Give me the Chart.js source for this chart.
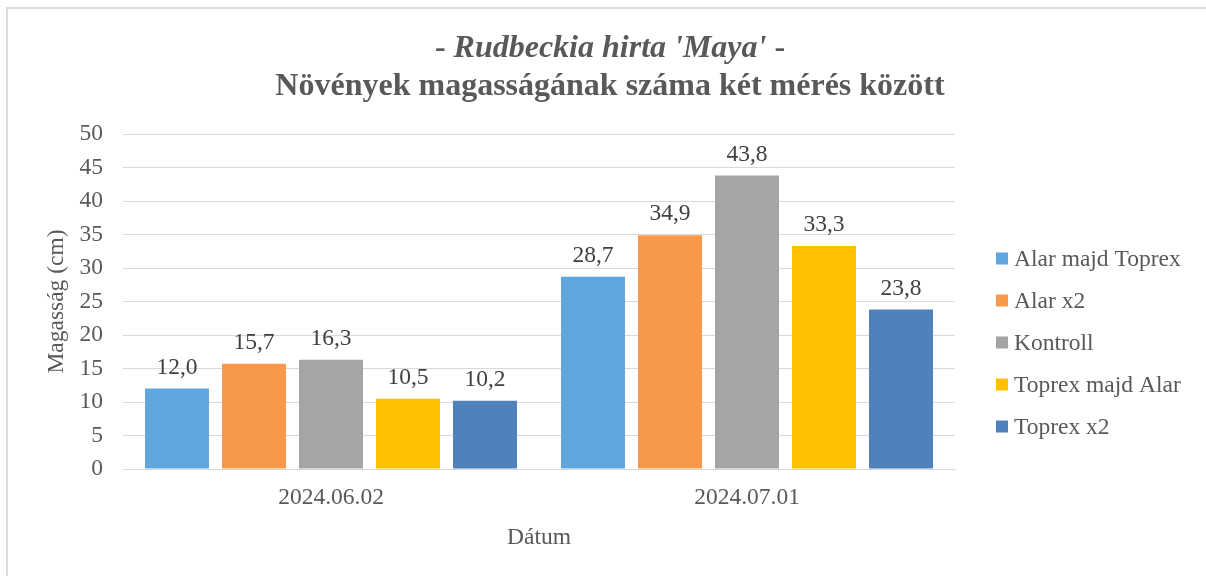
<!DOCTYPE html>
<html lang="hu">
<head>
<meta charset="utf-8">
<title>Rudbeckia hirta 'Maya'</title>
<script src="https://cdn.jsdelivr.net/npm/chart.js@4.4.1/dist/chart.umd.min.js"></script>
<style>
  body { margin: 0; background: #fff; overflow: hidden; }
  #keret { position: absolute; left: 6px; top: 7px; width: 1230px; height: 600px; border: 2px solid #dcdcdc; box-sizing: border-box; }
  #grafikon { position: absolute; left: 0; top: 0; }
</style>
</head>
<body>
<div id="keret"></div>
<canvas id="grafikon" width="1206" height="576"></canvas>
<script>
// adatok
const datumok = ['2024.06.02', '2024.07.01'];
const sorozatNevek = ['Alar majd Toprex', 'Alar x2', 'Kontroll', 'Toprex majd Alar', 'Toprex x2'];
const alarMajdToprex = [12.0, 28.7];
const alarX2 = [15.7, 34.9];
const kontroll = [16.3, 43.8];
const toprexMajdAlar = [10.5, 33.3];
const toprexX2 = [10.2, 23.8];
const szinek = ['#5fa6df', '#f7984a', '#a5a5a5', '#ffc000', '#4f81bd'];
const yMin = 0, yMax = 50, yLepes = 5;

const betu = '"Liberation Serif", "Times New Roman", serif';
const szurke = '#595959';

const ertekek = [alarMajdToprex, alarX2, kontroll, toprexMajdAlar, toprexX2];

// cim ket sorban, az elso sor dolt betus resszel
const cimRajz = {
  id: 'cimRajz',
  afterDraw(chart) {
    const ctx = chart.ctx;
    ctx.save();
    ctx.fillStyle = szurke;
    ctx.textBaseline = 'alphabetic';
    const kozep = 610;
    const reszek = [
      { t: '- ', f: 'bold 32px ' + betu },
      { t: "Rudbeckia hirta 'Maya'", f: 'italic bold 32px ' + betu },
      { t: ' -', f: 'bold 32px ' + betu }
    ];
    let osszes = 0;
    reszek.forEach(r => { ctx.font = r.f; r.w = ctx.measureText(r.t).width; osszes += r.w; });
    let x = kozep - osszes / 2;
    ctx.textAlign = 'left';
    reszek.forEach(r => { ctx.font = r.f; ctx.fillText(r.t, x, 57); x += r.w; });
    ctx.font = 'bold 32px ' + betu;
    ctx.textAlign = 'center';
    ctx.fillText('Növények magasságának száma két mérés között', kozep, 95);
    ctx.restore();
  }
};

// ertekek az oszlopok felett
const ertekCimkek = {
  id: 'ertekCimkek',
  afterDatasetsDraw(chart) {
    const ctx = chart.ctx;
    ctx.save();
    ctx.font = '23.5px ' + betu;
    ctx.fillStyle = '#404040';
    ctx.textAlign = 'center';
    ctx.textBaseline = 'alphabetic';
    chart.data.datasets.forEach((ds, i) => {
      chart.getDatasetMeta(i).data.forEach((oszlop, j) => {
        ctx.fillText(ds.data[j].toFixed(1).replace('.', ','), oszlop.x, oszlop.y - 15);
      });
    });
    ctx.restore();
  }
};

// jelmagyarazat jobb oldalt
const jelmagyarazat = {
  id: 'jelmagyarazat',
  afterDraw(chart) {
    const ctx = chart.ctx;
    ctx.save();
    ctx.font = '23.5px ' + betu;
    ctx.textBaseline = 'middle';
    ctx.textAlign = 'left';
    chart.data.datasets.forEach((ds, i) => {
      const y = 258.5 + i * 42;
      ctx.fillStyle = ds.backgroundColor;
      ctx.fillRect(996, y - 6, 12, 12);
      ctx.fillStyle = szurke;
      ctx.fillText(ds.label, 1014, y + 1);
    });
    ctx.restore();
  }
};

const ctx = document.getElementById('grafikon').getContext('2d');
new Chart(ctx, {
  type: 'bar',
  data: {
    labels: datumok,
    datasets: sorozatNevek.map((nev, i) => ({
      label: nev,
      data: ertekek[i],
      backgroundColor: szinek[i],
      borderWidth: 0,
      categoryPercentage: 0.9255,
      barPercentage: 0.831
    }))
  },
  options: {
    responsive: false,
    animation: false,
    layout: { padding: { top: 134, left: 43, right: 251, bottom: 24 } },
    plugins: {
      legend: { display: false },
      title: { display: false },
      tooltip: { enabled: false }
    },
    scales: {
      x: {
        grid: { display: false, drawTicks: false },
        border: { display: true, color: '#d9d9d9', width: 1 },
        ticks: { color: szurke, font: { family: betu, size: 23.5 }, padding: 15 },
        title: { display: true, text: 'Dátum', color: szurke, font: { family: betu, size: 23.5 }, padding: { top: 10, bottom: 0 } },
        afterFit(skala) { skala.height = 83; }
      },
      y: {
        min: yMin,
        max: yMax,
        grid: { color: '#d9d9d9', lineWidth: 1, drawTicks: false },
        border: { display: false },
        ticks: { stepSize: yLepes, color: szurke, font: { family: betu, size: 23.5 }, padding: 20 },
        title: { display: true, text: 'Magasság (cm)', color: szurke, font: { family: betu, size: 23.5 }, padding: { top: 0, bottom: 0 } },
        afterFit(skala) { skala.width = 80; }
      }
    }
  },
  plugins: [ertekCimkek, cimRajz, jelmagyarazat]
});
</script>
</body>
</html>
